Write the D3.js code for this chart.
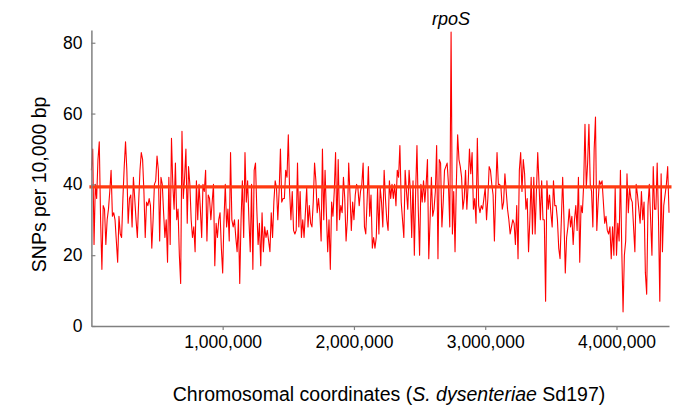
<!DOCTYPE html>
<html>
<head>
<meta charset="utf-8">
<script src="https://cdn.jsdelivr.net/npm/d3@7"></script>
<style>
  html, body { margin: 0; padding: 0; background: #fff; }
  svg { display: block; font-family: "Liberation Sans", Arial, sans-serif; }
</style>
</head>
<body>
<svg id="chart" width="677" height="409"></svg>
<script>
// SNP density per 10,000 bp window (window index * 10,000 = chromosomal coordinate)
const binSize = 10000;
const snpsPer10kb = [
  44,50,23,40,36,47,52,30,16,34, 33,23,30,33,38,44,31,32,30,24,
  18,31,26,25,36,45,52,44,29,36, 37,28,42,36,30,25,35,44,49,47,
  38,25,35,34,36,34,22,30,40,41, 48,44,24,42,40,32,25,30,18,42,
  23,53,40,33,46,30,33,20,12,55, 36,42,50,29,45,40,30,25,28,21,
  41,30,40,33,25,40,38,44,24,37, 36,30,35,40,17,29,25,30,32,22,
  15,30,40,28,33,24,49,30,28,30, 25,21,30,12,30,41,25,49,35,41,
  30,21,40,16,44,46,33,23,29,17, 32,21,28,25,27,24,21,32,25,35,
  41,39,30,38,50,35,36,36,44,42, 54,38,30,38,27,26,27,46,28,38,
  25,30,25,32,39,28,34,29,28,35, 46,41,32,36,32,24,50,30,44,32,
  21,30,16,35,31,38,49,27,47,30, 34,32,42,36,24,30,46,37,27,35,
  30,37,40,39,34,38,40,46,28,26, 35,45,31,37,22,25,22,25,39,26,
  39,35,28,44,36,30,27,41,36,40, 36,40,34,44,42,51,35,30,25,44,
  38,33,44,38,25,41,20,38,51,33, 20,40,35,41,35,40,47,19,30,42,
  31,33,38,51,19,47,46,28,35,44, 45,46,40,28,83,26,38,21,40,54,
  47,45,42,33,36,44,33,40,50,43, 49,33,36,29,53,34,32,34,33,36,
  39,30,36,45,44,40,37,24,38,49, 40,40,39,33,35,43,38,33,30,26,
  28,30,29,23,34,19,44,49,38,47, 43,33,36,21,30,42,26,42,26,38,
  49,40,30,41,30,30,7,41,33,37, 32,28,41,34,34,30,22,19,30,42,
  30,15,25,28,33,28,31,23,30,34, 27,42,18,34,32,40,57,39,46,57,
  40,38,28,50,59,27,35,41,40,41, 35,29,31,27,26,28,19,28,20,39,
  20,29,24,44,22,4,20,24,43,32, 39,36,35,28,21,40,37,33,29,38,
  30,35,15,9,34,40,30,20,45,33, 33,46,30,7,43,21,34,37,40,45,
  32
];
const referenceLevel = 39.3;
const xTickValues = [1000000, 2000000, 3000000, 4000000];
const yTickValues = [0, 20, 40, 60, 80];
const xDomain = [0, 4400000];
const yDomain = [0, 83.6];
const peakLabel = "rpoS";
const peakPosition = 2740000;

const data = snpsPer10kb.map((v, i) => ({ pos: i * binSize, v }));

const svg = d3.select("#chart");
const x = d3.scaleLinear().domain(xDomain).range([91.4, 669]);
const y = d3.scaleLinear().domain(yDomain).range([326, 30]);

const axisColor = "#808080";

// data line
svg.append("path")
  .datum(data)
  .attr("fill", "none")
  .attr("stroke", "#ff0000")
  .attr("stroke-width", 1.1)
  .attr("stroke-linejoin", "round")
  .attr("d", d3.line().x(d => x(d.pos)).y(d => y(d.v)));

// reference (average) line
svg.append("line")
  .attr("x1", x(xDomain[0]) - 2)
  .attr("x2", x(xDomain[1]) + 2.5)
  .attr("y1", y(referenceLevel))
  .attr("y2", y(referenceLevel))
  .attr("stroke", "#ff3a10")
  .attr("stroke-width", 3.2);

// axes
const xAxis = d3.axisBottom(x)
  .tickValues(xTickValues)
  .tickFormat(d3.format(","))
  .tickSizeInner(4)
  .tickSizeOuter(0)
  .tickPadding(6);
const gx = svg.append("g").attr("transform", `translate(0,${y(0)})`).call(xAxis);

const yAxis = d3.axisLeft(y)
  .tickValues(yTickValues)
  .tickSizeInner(-4)
  .tickSizeOuter(0)
  .tickPadding(9);
const gy = svg.append("g").attr("transform", `translate(${x(0)},0)`).call(yAxis);

[gx, gy].forEach(g => {
  g.select(".domain").attr("stroke", axisColor).attr("stroke-width", 1.5);
  g.selectAll(".tick line").attr("stroke", axisColor).attr("stroke-width", 1.2);
  g.selectAll(".tick text")
    .attr("fill", "#000")
    .style("font-size", "17.5px")
    .style("font-family", "'Liberation Sans', Arial, sans-serif");
});

// titles
svg.append("text")
  .attr("transform", `translate(46,${y(40)}) rotate(-90)`)
  .attr("text-anchor", "middle")
  .style("font-size", "19.5px")
  .text("SNPs per 10,000 bp");

const xt = svg.append("text")
  .attr("x", 389)
  .attr("y", 401)
  .attr("text-anchor", "middle")
  .style("font-size", "19.5px");
xt.append("tspan").text("Chromosomal coordinates (");
xt.append("tspan").style("font-style", "italic").text("S. dysenteriae");
xt.append("tspan").text(" Sd197)");

svg.append("text")
  .attr("x", x(peakPosition))
  .attr("y", 25)
  .attr("text-anchor", "middle")
  .style("font-size", "18px")
  .style("font-style", "italic")
  .text(peakLabel);
</script>
</body>
</html>
